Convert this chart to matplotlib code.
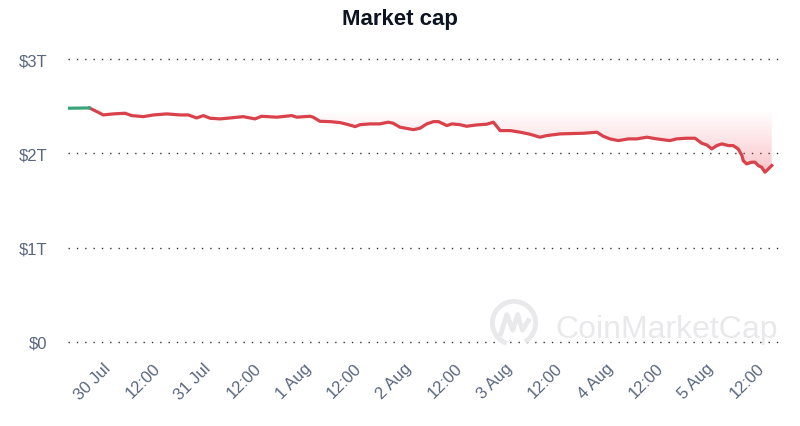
import matplotlib
matplotlib.use("Agg")
import matplotlib.pyplot as plt
import numpy as np
from matplotlib.patches import Polygon, Arc

plt.rcParams['font.family'] = ['Liberation Sans', 'DejaVu Sans']

# hours since 29 Jul 14:30, market cap in $T
hours = [0.0, 5.1, 6.9, 8.4, 10.8, 13.6, 15.2, 18.0, 20.4, 23.6, 26.7, 28.7, 30.7,
         32.3, 33.9, 36.3, 38.7, 41.8, 44.6, 46.2, 49.8, 53.4, 54.6, 57.7, 58.5,
         60.1, 62.5, 64.9, 66.9, 68.5, 69.7, 72.1, 74.4, 76.4, 77.6, 79.2, 82.4,
         84.0, 85.6, 87.2, 88.4, 90.4, 91.6, 93.5, 95.1, 97.5, 99.9, 101.5, 103.1,
         105.5, 107.9, 110.2, 112.6, 114.2, 117.4, 123.0, 126.2, 127.7, 129.3,
         131.3, 133.7, 135.7, 138.1, 140.5, 143.6, 145.2, 147.6, 149.6, 151.2,
         152.4, 153.6, 154.8, 156.0, 157.6, 158.7, 159.9, 160.8, 161.1, 161.9,
         163.1, 163.9, 164.7, 165.5, 166.3, 167.1, 167.9]
mcap = [2.478, 2.481, 2.442, 2.407, 2.418, 2.425, 2.400, 2.389, 2.407, 2.418, 2.407,
        2.407, 2.375, 2.400, 2.372, 2.365, 2.375, 2.389, 2.365, 2.393, 2.383, 2.400,
        2.383, 2.393, 2.383, 2.340, 2.336, 2.326, 2.304, 2.283, 2.304, 2.312, 2.312,
        2.330, 2.319, 2.277, 2.251, 2.266, 2.312, 2.336, 2.336, 2.294, 2.312, 2.304,
        2.287, 2.301, 2.309, 2.330, 2.241, 2.241, 2.224, 2.203, 2.171, 2.188, 2.206,
        2.213, 2.224, 2.181, 2.153, 2.135, 2.153, 2.153, 2.171, 2.153, 2.135, 2.153,
        2.160, 2.160, 2.107, 2.089, 2.047, 2.082, 2.100, 2.082, 2.082, 2.047, 1.976,
        1.923, 1.888, 1.906, 1.906, 1.870, 1.853, 1.800, 1.835, 1.870]

tick_hours = [9.5 + 12 * i for i in range(14)]
tick_labels = ['30 Jul', '12:00', '31 Jul', '12:00', '1 Aug', '12:00', '2 Aug',
               '12:00', '3 Aug', '12:00', '4 Aug', '12:00', '5 Aug', '12:00']
y_ticks = [0, 1, 2, 3]
y_labels = ['$0', '$1T', '$2T', '$3T']

red = '#d9414b'
green = '#3aa57a'
text_gray = '#58667e'

fig = plt.figure(figsize=(8, 4.27), dpi=100)
ax = fig.add_axes([68 / 800, 84 / 427, 710 / 800, 283 / 427])

for yv in y_ticks:
    ax.axhline(yv, color='#333333', lw=1.0, linestyle=(0, (1, 5)), clip_on=False, zorder=1)

# gradient fill between the line and the opening value
base = mcap[0]
verts = [(hours[0], base)] + list(zip(hours, mcap)) + [(hours[-1], base)]
poly = Polygon(verts, closed=True, facecolor='none', edgecolor='none')
ax.add_patch(poly)
grad = np.linspace(0, 1, 256).reshape(-1, 1)
rgba = np.zeros((256, 1, 4))
rgba[..., 0] = 0.93
rgba[..., 1] = 0.25
rgba[..., 2] = 0.30
rgba[..., 3] = 0.30 * grad
img = ax.imshow(rgba, extent=[hours[0], hours[-1], min(mcap), base - 0.03],
                origin='upper', aspect='auto', zorder=2)
img.set_clip_path(poly)
ax.set_xlim(0, 169.4)
ax.set_ylim(0, 3)

ax.plot(hours[1:], mcap[1:], color=red, lw=2.3, zorder=4, solid_joinstyle='round')
ax.plot(hours[:2], mcap[:2], color=green, lw=2.3, zorder=5)

ax.set_yticks(y_ticks)
ax.set_yticklabels(y_labels, fontsize=12, color=text_gray)
ax.set_xticks(tick_hours)
ax.set_xticklabels(tick_labels, fontsize=12, color=text_gray, rotation=45,
                   ha='right', va='center', rotation_mode='anchor')
ax.tick_params(axis='y', length=0, pad=15)
ax.tick_params(axis='x', length=0, pad=17)
for lab in ax.get_xticklabels():
    lab.set_x(lab.get_position()[0])
for s in ax.spines.values():
    s.set_visible(False)

fig.text(0.5, 1 - 20 / 427, 'Market cap', ha='center', va='center', fontsize=16,
         fontweight='bold', color='#0d1421')

# watermark
wm = '#e9e9ec'
fig.text(555 / 800, 1 - 330 / 427, 'CoinMarketCap', fontsize=23, color=wm,
         ha='left', va='center')
lax = fig.add_axes([490 / 800, 1 - 348 / 427, 48 / 800, 48 / 427])
lax.set_xlim(-1, 1)
lax.set_ylim(-1, 1)
lax.axis('off')
lax.add_patch(Arc((0, 0), 1.8, 1.8, theta1=-60, theta2=250, color=wm, lw=3.5))
lax.plot([-0.55, -0.3, -0.05, 0.15, 0.35, 0.6], [-0.45, 0.35, -0.3, 0.35, -0.3, 0.1],
         color=wm, lw=3.5)

fig.savefig('out.png', dpi=100, facecolor='white')
